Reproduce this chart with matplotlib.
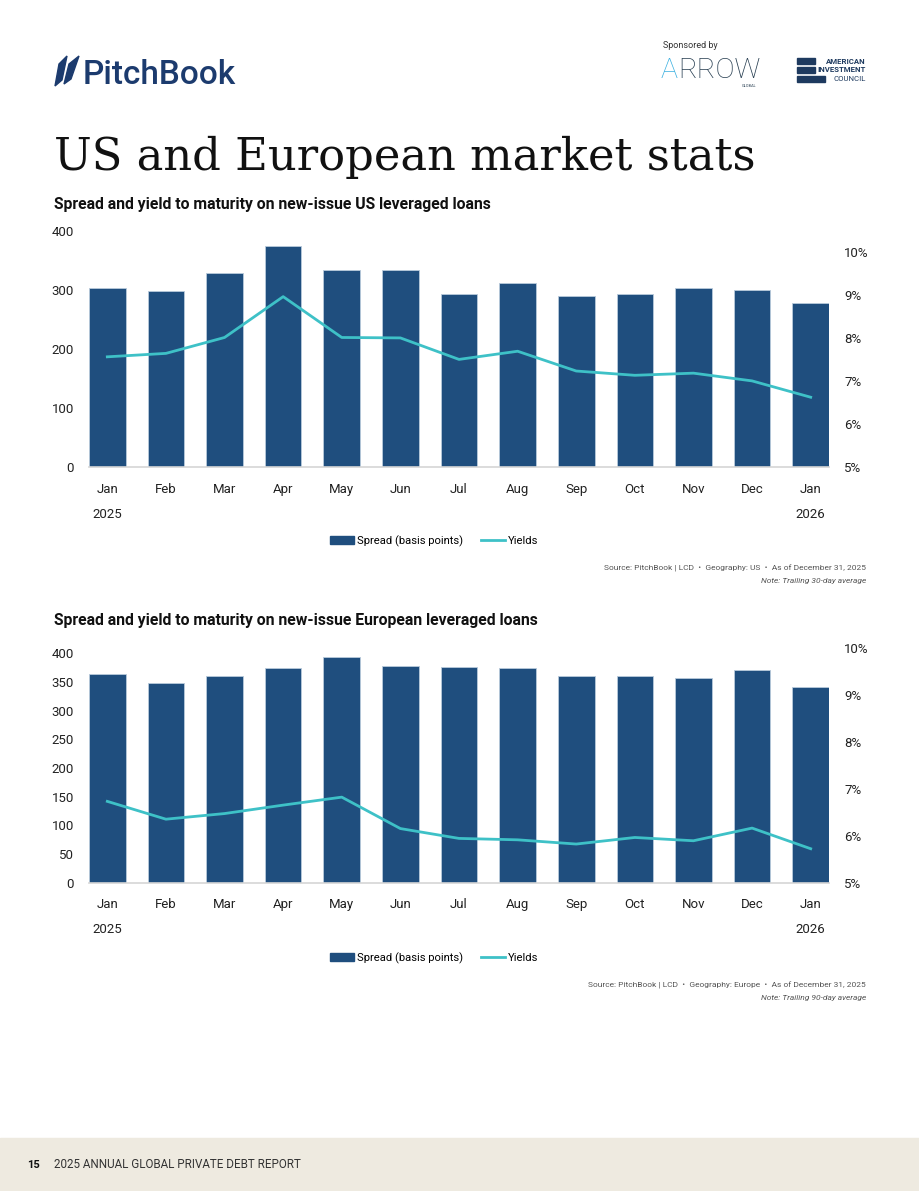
import matplotlib
matplotlib.use("Agg")
import matplotlib.pyplot as plt
from matplotlib.patches import Rectangle, Polygon
from matplotlib.lines import Line2D

# data
months = ["Jan", "Feb", "Mar", "Apr", "May", "Jun", "Jul", "Aug", "Sep", "Oct", "Nov", "Dec", "Jan"]
years = {0: "2025", 12: "2026"}

us_spread = [304, 299, 330, 375, 334, 334, 293, 312, 291, 294, 304, 300, 279]
us_yield = [7.57, 7.65, 8.02, 8.97, 8.02, 8.01, 7.51, 7.70, 7.24, 7.14, 7.19, 7.01, 6.63]

eu_spread = [364, 348, 360, 374, 394, 379, 376, 374, 361, 361, 358, 371, 341]
eu_yield = [6.73, 6.35, 6.47, 6.65, 6.82, 6.15, 5.94, 5.91, 5.82, 5.96, 5.89, 6.16, 5.72]

BAR = "#1F4E7E"
LINE = "#3EC1C7"
NAVY = "#1C3B6E"
W, H = 920, 1191

plt.rcParams["font.family"] = ["Roboto", "DejaVu Sans"]
fig = plt.figure(figsize=(W / 100, H / 100), dpi=100)


def fx(x):
    return x / W


def fy(y):
    return 1 - y / H


def panel(top, bottom, spread, yld, lmax, lticks, rmax):
    ax = fig.add_axes([fx(89), fy(bottom), fx(829 - 89), (bottom - top) / H])
    x = list(range(len(months)))
    ax.bar(x, spread, width=0.625, color=BAR, edgecolor="#B9CADB", linewidth=0.6, zorder=2)
    ax.set_xlim(-0.3125, len(months) - 1 + 0.3125)
    ax.set_ylim(0, lmax)
    ax.set_yticks(lticks)
    ax.set_xticks(x)
    ax.set_xticklabels(months)
    for s in ["top", "right", "left"]:
        ax.spines[s].set_visible(False)
    ax.spines["bottom"].set_color("#D5D5D5")
    ax.spines["bottom"].set_linewidth(1.2)
    ax.tick_params(axis="both", length=0, labelsize=9.5, colors="#222222")
    ax.tick_params(axis="y", pad=10.8)
    ax.tick_params(axis="x", pad=11)
    for i, yr in years.items():
        ax.text(i, -0.2, yr, transform=ax.get_xaxis_transform(), ha="center", va="center",
                fontsize=9.5, color="#222222")
    ax2 = ax.twinx()
    ax2.plot(x, yld, color=LINE, lw=2, zorder=3)
    ax2.set_ylim(5, rmax)
    ax2.set_yticks([5, 6, 7, 8, 9, 10])
    ax2.set_yticklabels([f"{v}%" for v in [5, 6, 7, 8, 9, 10]])
    for s in ["top", "right", "left", "bottom"]:
        ax2.spines[s].set_visible(False)
    ax2.tick_params(axis="y", length=0, labelsize=9.5, colors="#222222", pad=10.8)
    return ax


def legend(ycen):
    handles = [Rectangle((0, 0), 1, 1, color=BAR), Line2D([0], [0], color=LINE, lw=2)]
    fig.legend(handles, ["Spread (basis points)", "Yields"], loc="center",
               bbox_to_anchor=(fx(434), fy(ycen)), ncol=2, frameon=False, fontsize=8.1,
               handlelength=2.15, handleheight=0.7, handletextpad=0.27, columnspacing=1.6)


def source(y, text, note):
    fig.text(fx(866), fy(y), text, ha="right", va="center", fontsize=6.0, color="#555555")
    fig.text(fx(866), fy(y + 13), note, ha="right", va="center", fontsize=6.0, color="#555555",
             style="italic")


# header
fig.text(fx(54), fy(170), "US and European market stats", fontsize=32.3, color="#111111",
         family=["DejaVu Serif"], va="baseline", ha="left")
fig.text(fx(83), fy(84), "PitchBook", fontsize=24, color=NAVY, va="baseline", ha="left",
         fontweight="medium")
fig.patches.append(Polygon([(fx(55), fy(86)), (fx(59), fy(64)), (fx(67), fy(56)), (fx(62), fy(80))],
                           closed=True, color=NAVY, transform=fig.transFigure, figure=fig))
fig.patches.append(Polygon([(fx(64), fy(84)), (fx(69), fy(64)), (fx(79), fy(56)), (fx(71), fy(79))],
                           closed=True, color=NAVY, transform=fig.transFigure, figure=fig))
fig.text(fx(663), fy(46), "Sponsored by", fontsize=6.5, color="#333333", va="center")
fig.text(fx(661), fy(77.5), "A", fontsize=20.5, color="#3BB0E0", va="baseline", fontweight="light")
fig.text(fx(678), fy(77.5), "RROW", fontsize=20.5, color="#263D50", va="baseline", fontweight="light")
fig.text(fx(749), fy(86), "GLOBAL", fontsize=2.8, color="#263D50", va="center", ha="center")
for k, right in enumerate([815, 815, 825]):
    fig.patches.append(Rectangle((fx(797), fy(58 + k * 9 + 6)), fx(right - 797), 6 / H,
                                 color="#1E3A5F", transform=fig.transFigure, figure=fig))
fig.text(fx(866), fy(61), "AMERICAN", fontsize=5.6, color="#1E3A5F", ha="right", va="center",
         fontweight="bold")
fig.text(fx(866), fy(70), "INVESTMENT", fontsize=5.6, color="#1E3A5F", ha="right", va="center",
         fontweight="bold")
fig.text(fx(866), fy(79), "COUNCIL", fontsize=5.6, color="#1E3A5F", ha="right", va="center")

# chart 1
fig.text(fx(54), fy(204), "Spread and yield to maturity on new-issue US leveraged loans",
         fontsize=11.3, fontweight="bold", color="#111111", va="center")
panel(231.3, 467.3, us_spread, us_yield, 400, [0, 100, 200, 300, 400], 10.49)
legend(541)
source(568, "Source: PitchBook | LCD  •  Geography: US  •  As of December 31, 2025",
       "Note: Trailing 30-day average")

# chart 2
fig.text(fx(54), fy(621), "Spread and yield to maturity on new-issue European leveraged loans",
         fontsize=11.3, fontweight="bold", color="#111111", va="center")
panel(648, 882.5, eu_spread, eu_yield, 409.6, list(range(0, 401, 50)), 10)
legend(958)
source(985, "Source: PitchBook | LCD  •  Geography: Europe  •  As of December 31, 2025",
       "Note: Trailing 90-day average")

# footer
fig.patches.append(Rectangle((0, 0), 1, (H - 1138) / H, color="#EEEAE0",
                             transform=fig.transFigure, figure=fig, zorder=0))
fig.text(fx(27), fy(1165), "15", fontsize=8, fontweight="bold", color="#111111", va="center")
fig.text(fx(54), fy(1165), "2025 ANNUAL GLOBAL PRIVATE DEBT REPORT", fontsize=8.4,
         color="#333333", va="center")

fig.savefig("out.png", dpi=100)
